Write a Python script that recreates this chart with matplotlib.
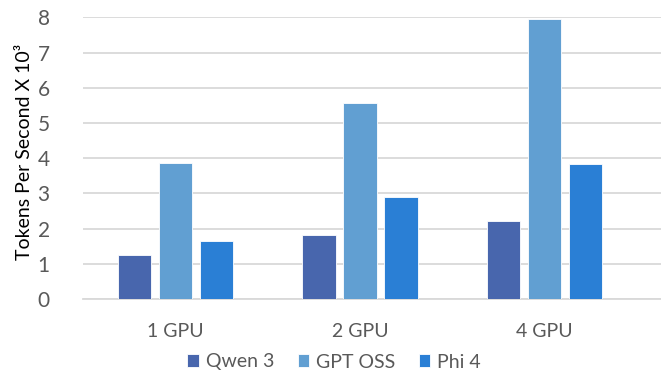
import matplotlib

matplotlib.use("Agg")

import matplotlib.pyplot as plt
import numpy as np

categories = ["1 GPU", "2 GPU", "4 GPU"]
series_names = ["Qwen 3", "GPT OSS", "Phi 4"]
qwen = [1.26, 1.81, 2.22]
gpt_oss = [3.86, 5.56, 7.95]
phi = [1.66, 2.91, 3.83]
y_ticks = [0, 1, 2, 3, 4, 5, 6, 7, 8]

colors = ["#4866ad", "#619fd2", "#2a7fd5"]
text_color = "#595959"
grid_color = "#d9d9d9"

plt.rcParams["font.family"] = ["Lato", "DejaVu Sans"]

fig = plt.figure(figsize=(6.61, 3.73), dpi=100)
ax = fig.add_axes([83 / 661, 1 - 299 / 373, 1 - 83 / 661, (299 - 17.3) / 373])

x = np.arange(len(categories))
width = 0.179
step = 0.222
handles = []
for i, (values, name) in enumerate(zip([qwen, gpt_oss, phi], series_names)):
    bars = ax.bar(x + (i - 1) * step, values, width, color=colors[i],
                  edgecolor="white", linewidth=0.6, label=name, zorder=3)
    handles.append(bars)

ax.set_xlim(-0.5, 2.63)
ax.set_ylim(0, 8)
ax.set_yticks(y_ticks)
ax.set_xticks(x)
ax.set_xticklabels(categories)
ax.grid(axis="y", color=grid_color, linewidth=1.3, zorder=0)
ax.set_axisbelow(True)
for side in ["top", "right", "left"]:
    ax.spines[side].set_visible(False)
ax.spines["bottom"].set_color(grid_color)
ax.spines["bottom"].set_linewidth(1.3)
ax.tick_params(axis="both", length=0, labelsize=14, colors=text_color)
ax.tick_params(axis="y", pad=24, labelsize=15)
ax.tick_params(axis="x", pad=17)

fig.text(25 / 661, 1 - 152 / 373, "Tokens Per Second X 10³", rotation=90,
         ha="center", va="center", fontsize=14, color="black")

fig.legend(handles=handles, labels=series_names, loc="center",
           bbox_to_anchor=(334 / 661, 1 - 362 / 373), ncol=3, frameon=False,
           fontsize=14, labelcolor=text_color, handlelength=0.6, handleheight=0.6,
           handletextpad=0.35, columnspacing=1.2, borderpad=0)

fig.savefig("out.png", dpi=100)
